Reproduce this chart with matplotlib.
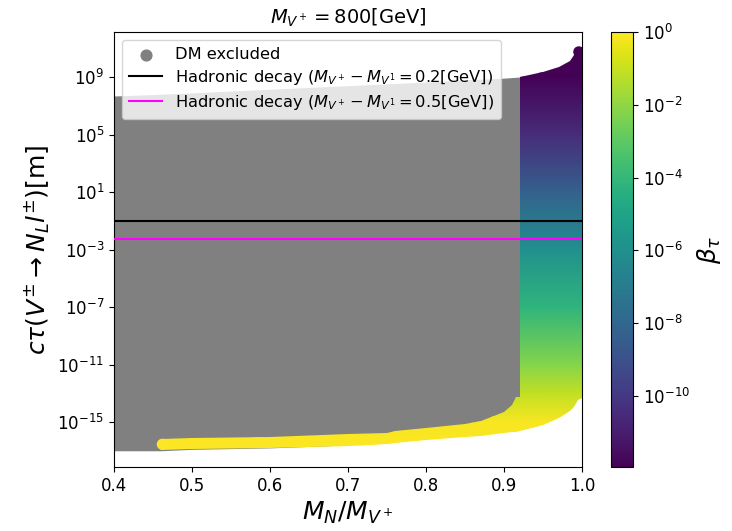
import numpy as np
import matplotlib
matplotlib.use('Agg')
import matplotlib.pyplot as plt
from matplotlib.colors import LogNorm
from matplotlib.ticker import FixedLocator, NullLocator, LogFormatterSciNotation

# gray "DM excluded" region: x, lower / upper edge (log10 of c*tau in m)
gray_x = [0.40, 0.46, 0.50, 0.60, 0.70, 0.80, 0.85, 0.90, 0.92]
gray_low = [-17.0, -17.0, -16.9, -16.8, -16.6, -16.1, -15.9, -15.5, -15.3]
gray_top = [7.68, 7.80, 7.90, 8.15, 8.40, 8.65, 8.80, 8.92, 9.00]

# coloured (allowed) region: x, lower / upper edge (log10 of c*tau in m)
col_x = [0.455, 0.46, 0.50, 0.60, 0.70, 0.75, 0.76, 0.80, 0.85, 0.87, 0.90, 0.91,
         0.915, 0.92, 0.92, 0.95, 0.97, 0.985, 0.99, 0.995, 1.0]
col_low = [-16.55, -16.95, -16.90, -16.80, -16.67, -16.50, -16.45, -16.25, -16.04, -15.95,
           -15.77, -15.70, -15.66, -15.62, -15.62, -15.20, -14.70, -14.20, -13.96, -13.50, -13.30]
col_top = [-16.55, -16.18, -16.12, -16.04, -15.80, -15.75, -15.60, -15.42, -15.14, -14.93,
           -14.30, -13.80, -13.26, -13.26, 9.00, 9.35, 9.70, 10.10, 10.55, 10.60, 10.50]

lvl_ct = [-18.5, -15, -13, -11, -7, -3, 1, 5, 9, 12.5]
lvl_beta = [0.0, -0.1, -1.1, -2.2, -4.2, -6.0, -8.3, -10.5, -11.9, -11.95]

# single points at the ends of the band
end_x = [0.462, 0.996]
end_ct = [-16.55, 10.75]
end_beta = [0.0, -11.95]

ct_black = 0.1
ct_magenta = 0.005

fig = plt.figure(figsize=(7.32, 5.31), dpi=100)
ax = fig.add_axes([0.1557, 0.1205, 0.6393, 0.8192])
cax = fig.add_axes([0.8347, 0.1205, 0.0301, 0.8192])

norm = LogNorm(vmin=10**-11.95, vmax=1.0)

ax.set_yscale('log')
ax.set_xlim(0.4, 1.0)
ax.set_ylim(10**-18.13, 10**12.13)

ax.fill_between(gray_x, 10.0**np.array(gray_low), 10.0**np.array(gray_top),
                color='grey', linewidth=0, zorder=1)
ax.scatter([], [], color='grey', s=60, label='DM excluded')

# coloured region as a shaded mesh, clipped to the region outline
X = np.array([0.40, 1.0])
Y = 10.0**np.array(lvl_ct)
C = np.tile(10.0**np.array(lvl_beta)[:, None], (1, 2))
mesh = ax.pcolormesh(X, Y, C, cmap='viridis', norm=norm, shading='gouraud', zorder=2)
outline = ax.fill_between(col_x, 10.0**np.array(col_low), 10.0**np.array(col_top),
                          facecolor='none', edgecolor='none')
mesh.set_clip_path(outline.get_paths()[0], ax.transData)

ax.scatter(end_x, 10.0**np.array(end_ct), c=10.0**np.array(end_beta), cmap='viridis',
           norm=norm, s=65, edgecolors='none', zorder=3)

ax.axhline(ct_black, color='black', lw=1.5, zorder=4,
           label=r'Hadronic decay ($M_{V^+}-M_{V^1}=0.2$[GeV])')
ax.axhline(ct_magenta, color='magenta', lw=1.5, zorder=4,
           label=r'Hadronic decay ($M_{V^+}-M_{V^1}=0.5$[GeV])')

ax.yaxis.set_major_locator(FixedLocator([10.0**k for k in range(-15, 12, 4)]))
ax.yaxis.set_major_formatter(LogFormatterSciNotation())
ax.yaxis.set_minor_locator(NullLocator())
ax.set_xticks([0.4, 0.5, 0.6, 0.7, 0.8, 0.9, 1.0])
ax.tick_params(labelsize=12)

ax.set_xlabel(r'$M_N/M_{V^+}$', fontsize=18)
ax.set_ylabel(r'$c\tau(V^{\pm}\to N_L l^{\pm})$[m]', fontsize=18)
ax.set_title(r'$M_{V^+}=800$[GeV]', fontsize=14)
ax.legend(loc='upper left', fontsize=11.7, labelspacing=0.35, borderpad=0.45)

cb = fig.colorbar(mesh, cax=cax)
cb.set_ticks([10.0**k for k in range(-10, 1, 2)])
cb.ax.minorticks_off()
cb.ax.tick_params(labelsize=12)
cb.set_label(r'$\beta_\tau$', fontsize=18)

fig.savefig('out.png', dpi=100)
